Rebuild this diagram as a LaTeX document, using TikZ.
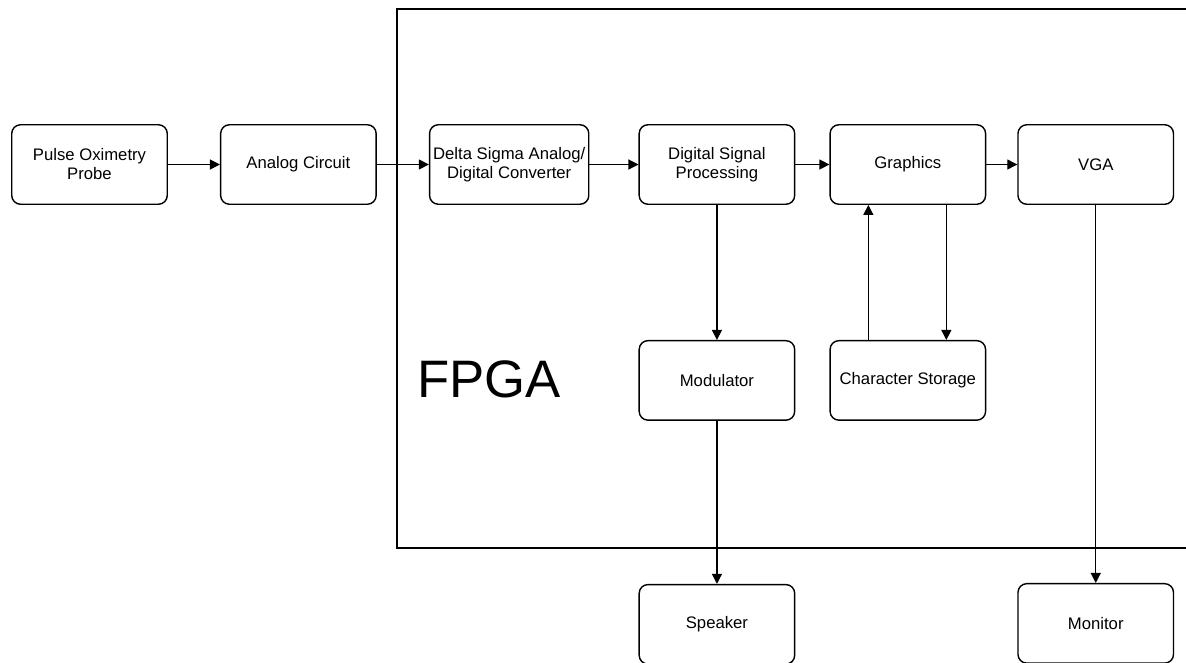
\documentclass[tikz,border=0pt]{standalone}
\usepackage{fontspec}
\setmainfont{Liberation Sans}
\usetikzlibrary{arrows.meta,positioning}

\begin{document}
\begin{tikzpicture}[
  node distance=2.7cm and 1.04cm,
  box/.style={rectangle, rounded corners=5pt, draw, line width=0.8pt, align=center,
              minimum width=3.11cm, minimum height=1.59cm, inner sep=2pt,
              font=\fontsize{9.5}{10.8}\selectfont},
  arr/.style={-{Triangle[length=2mm, width=2mm]}, line width=0.7pt}]
  \useasboundingbox (0,0) rectangle (23.72,-13.24);
  \clip (0,0) rectangle (23.72,-13.24);
  \node[box] (probe) at (1.79,-3.29) {Pulse Oximetry\\Probe};
  \node[box, right=of probe] (analog) {Analog Circuit};
  \node[box, right=of analog] (adc) {Delta Sigma Analog/\\Digital Converter};
  \node[box, right=0.98cm of adc] (dsp) {Digital Signal\\Processing};
  \node[box, right=0.68cm of dsp] (gfx) {Graphics};
  \node[box, right=0.62cm of gfx] (vga) {VGA};
  \node[box, below=of dsp] (mod) {Modulator};
  \node[box, below=of gfx] (chars) {Character Storage};
  \node[box, below=3.26cm of mod] (spk) {Speaker};
  \node[box, below=7.56cm of vga] (mon) {Monitor};
  % FPGA boundary
  \draw[line width=0.9pt] (7.94,-0.18) rectangle (24.2,-10.96);
  \node[font=\fontsize{30}{36}\selectfont, inner sep=0pt] (fpga) at (9.78,-7.58) {FPGA};
  \draw[arr] (probe) -- (analog);
  \draw[arr] (analog) -- (adc);
  \draw[arr] (adc) -- (dsp);
  \draw[arr] (dsp) -- (gfx);
  \draw[arr] (gfx) -- (vga);
  \draw[arr] (dsp) -- (mod);
  \draw[arr] (mod) -- (spk);
  \draw[arr] ([xshift=-0.79cm]chars.north) -- ([xshift=-0.79cm]gfx.south);
  \draw[arr] ([xshift=0.77cm]gfx.south) -- ([xshift=0.77cm]chars.north);
  \draw[arr] (vga) -- (mon);
\end{tikzpicture}
\end{document}
